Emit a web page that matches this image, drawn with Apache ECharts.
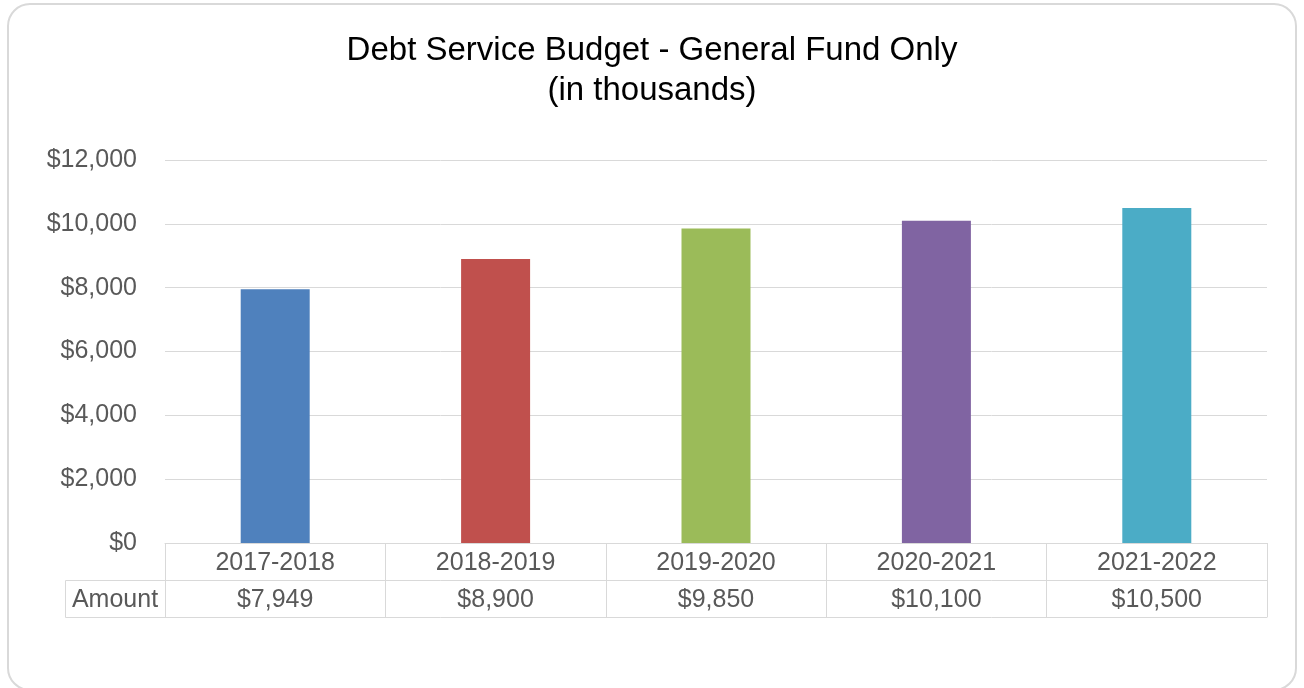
<!DOCTYPE html>
<html><head><meta charset="utf-8">
<script src="https://cdn.jsdelivr.net/npm/echarts@6/dist/echarts.min.js"></script>
<style>html,body{margin:0;padding:0;background:#fff}#c{width:1304px;height:688px}</style>
</head><body><div id="c"></div>
<script>
const categories = ['2017-2018','2018-2019','2019-2020','2020-2021','2021-2022'];
const amounts = [7949, 8900, 9850, 10100, 10500];
const barColors = ['#4F81BD','#C0504D','#9BBB59','#8064A2','#4BACC6'];
const rowLabel = 'Amount';
const fmt = v => '$' + v.toLocaleString('en-US');
const amountLabels = amounts.map(fmt);

const FONT = '"Liberation Sans", Arial, sans-serif';
const LINE = '#d9d9d9';
const TXT = '#595959';
const FS = 25;

const chart = echarts.init(document.getElementById('c'));
chart.setOption({
  animation: false,
  title: {
    text: 'Debt Service Budget - General Fund Only\n(in thousands)',
    left: 'center', top: 26,
    textStyle: {fontFamily: FONT, fontSize: 33, fontWeight: 'normal', color: '#000', lineHeight: 40}
  },
  grid: {left: 165, right: 37, top: 160, bottom: 145},
  xAxis: [
    {type: 'category', data: categories, position: 'bottom',
     axisLine: {show: true, lineStyle: {color: LINE, width: 1}},
     axisTick: {show: true, length: 37, lineStyle: {color: LINE}},
     axisLabel: {fontFamily: FONT, fontSize: FS, color: TXT, margin: 8}},
    {type: 'category', data: amountLabels, position: 'bottom', offset: 37,
     axisLine: {show: true, lineStyle: {color: LINE, width: 1}},
     axisTick: {show: true, length: 37, lineStyle: {color: LINE}},
     axisLabel: {fontFamily: FONT, fontSize: FS, color: TXT, margin: 8}},
    {type: 'category', data: categories, position: 'bottom', offset: 74,
     axisLine: {show: true, lineStyle: {color: LINE, width: 1}},
     axisTick: {show: false}, axisLabel: {show: false}}
  ],
  yAxis: {
    type: 'value', min: 0, max: 12000, interval: 2000,
    axisLine: {show: false}, axisTick: {show: false},
    axisLabel: {fontFamily: FONT, fontSize: FS, color: TXT, margin: 28, formatter: fmt, padding: [7, 0, 0, 0]},
    splitLine: {lineStyle: {color: LINE}}
  },
  series: [{
    type: 'bar', xAxisIndex: 0, barWidth: 69,
    data: amounts.map((v, i) => ({value: v, itemStyle: {color: barColors[i]}}))
  }],
  graphic: [
    {type: 'rect', shape: {x: 8, y: 4, width: 1288, height: 686, r: 22},
     style: {fill: 'none', stroke: '#d9d9d9', lineWidth: 2}, silent: true},
    {type: 'rect', shape: {x: 65.5, y: 580.5, width: 100, height: 37},
     style: {fill: 'none', stroke: LINE, lineWidth: 1}, silent: true},
    {type: 'text', x: 115, y: 600,
     style: {text: rowLabel, font: FS + 'px ' + FONT, fill: TXT, align: 'center', verticalAlign: 'middle'}}
  ]
});
</script></body></html>
